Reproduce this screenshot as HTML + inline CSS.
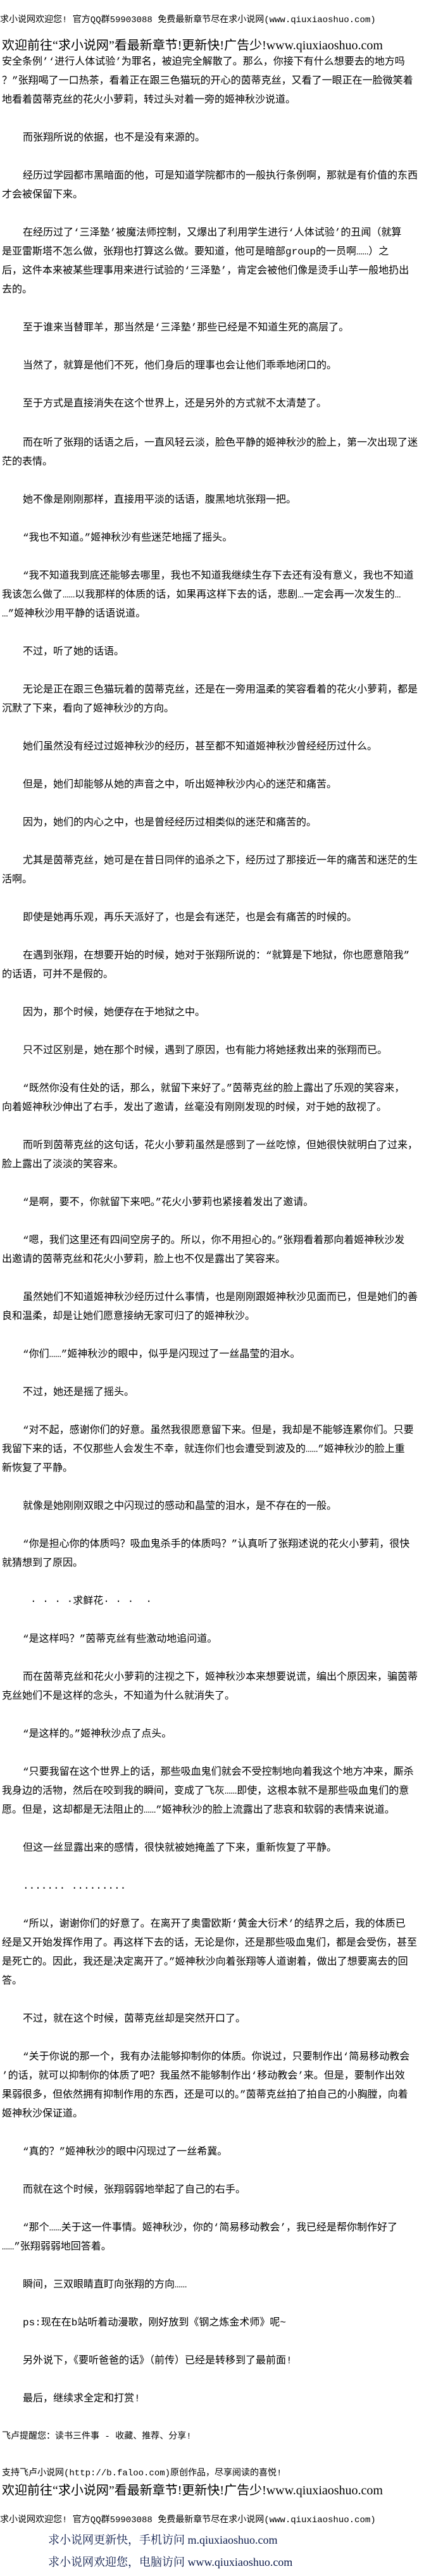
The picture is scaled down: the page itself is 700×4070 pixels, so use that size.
<!DOCTYPE html>
<html><head><meta charset="utf-8"><style>
html,body{margin:0;padding:0;background:#fff;}
body{width:700px;height:4070px;position:relative;overflow:hidden;color:#000;}
.l{position:absolute;left:3px;white-space:nowrap;font-family:"Liberation Mono","Noto Sans CJK SC",sans-serif;font-size:16px;line-height:30px;height:30px;}
.i{left:36px;}
.h{left:0;font-size:14px;}
.b{left:3px;font-family:"Liberation Serif","Noto Sans CJK SC",sans-serif;font-size:20px;}
.n{left:76px;font-family:"Liberation Serif","Noto Serif CJK SC",serif;font-size:18px;color:#0b1a4a;}
</style></head><body>
<div class="l h" style="top:17px">求小说网欢迎您! 官方QQ群59903088 免费最新章节尽在求小说网(www.qiuxiaoshuo.com)</div>
<div class="l b" style="top:57px">欢迎前往“求小说网”看最新章节!更新快!广告少!www.qiuxiaoshuo.com</div>
<div class="l" style="top:83px">安全条例’‘进行人体试验’为罪名，被迫完全解散了。那么，你接下有什么想要去的地方吗</div>
<div class="l" style="top:113px">？”张翔喝了一口热茶，看着正在跟三色猫玩的开心的茵蒂克丝，又看了一眼正在一脸微笑着</div>
<div class="l" style="top:143px">地看着茵蒂克丝的花火小萝莉，转过头对着一旁的姬神秋沙说道。</div>
<div class="l i" style="top:203px">而张翔所说的依据，也不是没有来源的。</div>
<div class="l i" style="top:263px">经历过学园都市黑暗面的他，可是知道学院都市的一般执行条例啊，那就是有价值的东西</div>
<div class="l" style="top:293px">才会被保留下来。</div>
<div class="l i" style="top:353px">在经历过了‘三泽塾’被魔法师控制，又爆出了利用学生进行‘人体试验’的丑闻（就算</div>
<div class="l" style="top:383px">是亚雷斯塔不怎么做，张翔也打算这么做。要知道，他可是暗部group的一员啊……）之</div>
<div class="l" style="top:413px">后，这件本来被某些理事用来进行试验的‘三泽塾’，肯定会被他们像是烫手山芋一般地扔出</div>
<div class="l" style="top:443px">去的。</div>
<div class="l i" style="top:503px">至于谁来当替罪羊，那当然是‘三泽塾’那些已经是不知道生死的高层了。</div>
<div class="l i" style="top:563px">当然了，就算是他们不死，他们身后的理事也会让他们乖乖地闭口的。</div>
<div class="l i" style="top:623px">至于方式是直接消失在这个世界上，还是另外的方式就不太清楚了。</div>
<div class="l i" style="top:685px">而在听了张翔的话语之后，一直风轻云淡，脸色平静的姬神秋沙的脸上，第一次出现了迷</div>
<div class="l" style="top:715px">茫的表情。</div>
<div class="l i" style="top:775px">她不像是刚刚那样，直接用平淡的话语，腹黑地坑张翔一把。</div>
<div class="l i" style="top:835px">“我也不知道。”姬神秋沙有些迷茫地摇了摇头。</div>
<div class="l i" style="top:895px">“我不知道我到底还能够去哪里，我也不知道我继续生存下去还有没有意义，我也不知道</div>
<div class="l" style="top:925px">我该怎么做了……以我那样的体质的话，如果再这样下去的话，悲剧…一定会再一次发生的…</div>
<div class="l" style="top:955px">…”姬神秋沙用平静的话语说道。</div>
<div class="l i" style="top:1015px">不过，听了她的话语。</div>
<div class="l i" style="top:1075px">无论是正在跟三色猫玩着的茵蒂克丝，还是在一旁用温柔的笑容看着的花火小萝莉，都是</div>
<div class="l" style="top:1105px">沉默了下来，看向了姬神秋沙的方向。</div>
<div class="l i" style="top:1165px">她们虽然没有经过过姬神秋沙的经历，甚至都不知道姬神秋沙曾经经历过什么。</div>
<div class="l i" style="top:1225px">但是，她们却能够从她的声音之中，听出姬神秋沙内心的迷茫和痛苦。</div>
<div class="l i" style="top:1285px">因为，她们的内心之中，也是曾经经历过相类似的迷茫和痛苦的。</div>
<div class="l i" style="top:1345px">尤其是茵蒂克丝，她可是在昔日同伴的追杀之下，经历过了那接近一年的痛苦和迷茫的生</div>
<div class="l" style="top:1375px">活啊。</div>
<div class="l i" style="top:1435px">即使是她再乐观，再乐天派好了，也是会有迷茫，也是会有痛苦的时候的。</div>
<div class="l i" style="top:1495px">在遇到张翔，在想要开始的时候，她对于张翔所说的：“就算是下地狱，你也愿意陪我”</div>
<div class="l" style="top:1525px">的话语，可并不是假的。</div>
<div class="l i" style="top:1585px">因为，那个时候，她便存在于地狱之中。</div>
<div class="l i" style="top:1645px">只不过区别是，她在那个时候，遇到了原因，也有能力将她拯救出来的张翔而已。</div>
<div class="l i" style="top:1705px">“既然你没有住处的话，那么，就留下来好了。”茵蒂克丝的脸上露出了乐观的笑容来，</div>
<div class="l" style="top:1735px">向着姬神秋沙伸出了右手，发出了邀请，丝毫没有刚刚发现的时候，对于她的敌视了。</div>
<div class="l i" style="top:1795px">而听到茵蒂克丝的这句话，花火小萝莉虽然是感到了一丝吃惊，但她很快就明白了过来，</div>
<div class="l" style="top:1825px">脸上露出了淡淡的笑容来。</div>
<div class="l i" style="top:1885px">“是啊，要不，你就留下来吧。”花火小萝莉也紧接着发出了邀请。</div>
<div class="l i" style="top:1945px">“嗯，我们这里还有四间空房子的。所以，你不用担心的。”张翔看着那向着姬神秋沙发</div>
<div class="l" style="top:1975px">出邀请的茵蒂克丝和花火小萝莉，脸上也不仅是露出了笑容来。</div>
<div class="l i" style="top:2035px">虽然她们不知道姬神秋沙经历过什么事情，也是刚刚跟姬神秋沙见面而已，但是她们的善</div>
<div class="l" style="top:2065px">良和温柔，却是让她们愿意接纳无家可归了的姬神秋沙。</div>
<div class="l i" style="top:2125px">“你们……”姬神秋沙的眼中，似乎是闪现过了一丝晶莹的泪水。</div>
<div class="l i" style="top:2185px">不过，她还是摇了摇头。</div>
<div class="l i" style="top:2245px">“对不起，感谢你们的好意。虽然我很愿意留下来。但是，我却是不能够连累你们。只要</div>
<div class="l" style="top:2275px">我留下来的话，不仅那些人会发生不幸，就连你们也会遭受到波及的……”姬神秋沙的脸上重</div>
<div class="l" style="top:2305px">新恢复了平静。</div>
<div class="l i" style="top:2365px">就像是她刚刚双眼之中闪现过的感动和晶莹的泪水，是不存在的一般。</div>
<div class="l i" style="top:2425px">“你是担心你的体质吗？吸血鬼杀手的体质吗？”认真听了张翔述说的花火小萝莉，很快</div>
<div class="l" style="top:2455px">就猜想到了原因。</div>
<div class="l" style="top:2515px;left:48px">· · · ·求鲜花· · ·&nbsp; ·</div>
<div class="l i" style="top:2575px">“是这样吗？”茵蒂克丝有些激动地追问道。</div>
<div class="l i" style="top:2635px">而在茵蒂克丝和花火小萝莉的注视之下，姬神秋沙本来想要说谎，编出个原因来，骗茵蒂</div>
<div class="l" style="top:2665px">克丝她们不是这样的念头，不知道为什么就消失了。</div>
<div class="l i" style="top:2725px">“是这样的。”姬神秋沙点了点头。</div>
<div class="l i" style="top:2785px">“只要我留在这个世界上的话，那些吸血鬼们就会不受控制地向着我这个地方冲来，厮杀</div>
<div class="l" style="top:2815px">我身边的活物，然后在咬到我的瞬间，变成了飞灰……即使，这根本就不是那些吸血鬼们的意</div>
<div class="l" style="top:2845px">愿。但是，这却都是无法阻止的……”姬神秋沙的脸上流露出了悲哀和软弱的表情来说道。</div>
<div class="l i" style="top:2905px">但这一丝显露出来的感情，很快就被她掩盖了下来，重新恢复了平静。</div>
<div class="l i" style="top:2965px">....... .........</div>
<div class="l i" style="top:3025px">“所以，谢谢你们的好意了。在离开了奥雷欧斯‘黄金大衍术’的结界之后，我的体质已</div>
<div class="l" style="top:3055px">经是又开始发挥作用了。再这样下去的话，无论是你，还是那些吸血鬼们，都是会受伤，甚至</div>
<div class="l" style="top:3085px">是死亡的。因此，我还是决定离开了。”姬神秋沙向着张翔等人道谢着，做出了想要离去的回</div>
<div class="l" style="top:3115px">答。</div>
<div class="l i" style="top:3175px">不过，就在这个时候，茵蒂克丝却是突然开口了。</div>
<div class="l i" style="top:3235px">“关于你说的那一个，我有办法能够抑制你的体质。你说过，只要制作出‘简易移动教会</div>
<div class="l" style="top:3265px">’的话，就可以抑制你的体质了吧？我虽然不能够制作出‘移动教会’来。但是，要制作出效</div>
<div class="l" style="top:3295px">果弱很多，但依然拥有抑制作用的东西，还是可以的。”茵蒂克丝拍了拍自己的小胸膛，向着</div>
<div class="l" style="top:3325px">姬神秋沙保证道。</div>
<div class="l i" style="top:3385px">“真的？”姬神秋沙的眼中闪现过了一丝希冀。</div>
<div class="l i" style="top:3445px">而就在这个时候，张翔弱弱地举起了自己的右手。</div>
<div class="l i" style="top:3505px">“那个……关于这一件事情。姬神秋沙，你的‘简易移动教会’，我已经是帮你制作好了</div>
<div class="l" style="top:3535px">……”张翔弱弱地回答着。</div>
<div class="l i" style="top:3595px">瞬间，三双眼睛直盯向张翔的方向……</div>
<div class="l i" style="top:3655px">ps:现在在b站听着动漫歌，刚好放到《钢之炼金术师》呢~</div>
<div class="l i" style="top:3715px">另外说下，《要听爸爸的话》（前传）已经是转移到了最前面!</div>
<div class="l i" style="top:3775px">最后，继续求全定和打赏!</div>
<div class="l h" style="top:3835px;left:3px">飞卢提醒您：读书三件事 - 收藏、推荐、分享!</div>
<div class="l h" style="top:3893px;left:3px">支持飞卢小说网(http://b.faloo.com)原创作品，尽享阅读的喜悦!</div>
<div class="l b" style="top:3920px">欢迎前往“求小说网”看最新章节!更新快!广告少!www.qiuxiaoshuo.com</div>
<div class="l h" style="top:3967px">求小说网欢迎您! 官方QQ群59903088 免费最新章节尽在求小说网(www.qiuxiaoshuo.com)</div>
<div class="l n" style="top:3998px">求小说网更新快，手机访问 m.qiuxiaoshuo.com</div>
<div class="l n" style="top:4033px">求小说网欢迎您，电脑访问 www.qiuxiaoshuo.com</div>
</body></html>
